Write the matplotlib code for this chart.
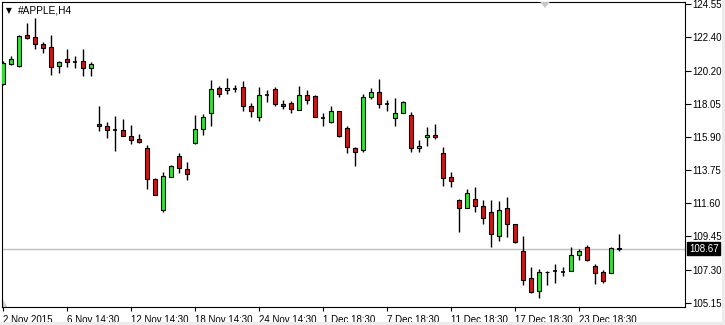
import matplotlib
matplotlib.use("Agg")
import matplotlib.pyplot as plt
from matplotlib.patches import Rectangle, Polygon
import numpy as np

# ---- data ----
opens = [119.37, 120.66, 120.53, 122.54, 122.41, 121.96, 121.76, 120.53, 120.99, 120.79,
         120.86, 120.40, 116.77, 116.64, 116.39, 116.39, 116.00, 115.80, 115.22, 113.21,
         111.14, 113.34, 114.70, 113.86, 115.54, 116.45, 117.49, 119.11, 118.98, 119.04,
         119.17, 117.94, 117.23, 118.65, 119.04, 118.07, 118.14, 117.68, 118.65, 118.59,
         117.16, 116.90, 117.62, 116.51, 115.22, 115.09, 118.52, 118.85, 118.07, 117.16,
         117.49, 117.36, 115.22, 115.93, 116.06, 114.89, 113.34, 111.85, 111.27, 111.91,
         111.46, 111.01, 109.45, 111.27, 110.23, 108.54, 106.73, 105.89, 107.12, 107.18,
         107.12, 107.18, 108.22, 108.74, 107.51, 107.12, 107.05, 108.72]
highs = [120.86, 121.18, 122.56, 123.32, 123.64, 122.09, 122.54, 120.86, 121.63, 121.18,
         121.63, 120.79, 117.94, 116.90, 117.29, 117.10, 116.71, 116.13, 115.41, 113.27,
         113.66, 114.12, 114.89, 114.31, 117.36, 117.42, 119.63, 119.24, 119.75, 119.30,
         119.56, 118.14, 119.17, 118.98, 119.17, 118.33, 118.26, 119.24, 118.98, 118.65,
         117.49, 117.94, 117.62, 116.64, 115.28, 118.72, 119.11, 119.69, 118.33, 118.46,
         118.26, 117.55, 115.74, 116.58, 116.77, 115.28, 113.66, 111.91, 112.56, 112.69,
         111.85, 111.85, 111.78, 112.04, 110.23, 109.45, 107.44, 107.31, 107.18, 107.64,
         107.44, 108.80, 108.61, 108.87, 107.64, 107.25, 108.74, 109.58]
lows = [119.30, 120.60, 120.47, 122.28, 121.63, 121.37, 119.95, 120.08, 120.47, 120.40,
        119.88, 119.88, 116.32, 115.87, 115.02, 115.95, 115.48, 115.54, 112.56, 112.17,
        111.01, 113.34, 113.60, 113.14, 115.48, 116.06, 116.64, 118.52, 118.72, 118.85,
        117.62, 117.23, 116.97, 118.20, 117.94, 117.75, 117.49, 117.68, 118.07, 117.23,
        116.64, 116.84, 115.93, 114.89, 114.05, 114.96, 118.39, 117.81, 117.62, 116.64,
        117.49, 114.96, 114.96, 115.35, 115.80, 112.76, 112.69, 109.71, 111.27, 111.01,
        110.23, 108.74, 109.13, 109.39, 109.00, 106.28, 105.76, 105.43, 106.28, 106.41,
        106.86, 107.18, 107.90, 107.83, 106.34, 106.41, 107.05, 108.54]
closes = [120.73, 120.99, 122.50, 122.35, 121.96, 121.70, 120.47, 120.79, 120.79, 120.79,
          120.40, 120.66, 116.64, 116.39, 116.39, 116.00, 115.74, 115.61, 113.21, 112.17,
          113.40, 114.05, 113.92, 113.53, 116.45, 117.23, 119.04, 118.72, 119.11, 119.04,
          117.94, 117.62, 118.65, 118.65, 118.07, 117.94, 117.75, 118.65, 118.33, 117.23,
          117.16, 117.62, 116.00, 115.28, 114.96, 118.52, 118.85, 118.07, 118.07, 117.49,
          118.20, 115.22, 115.35, 116.06, 115.93, 113.27, 113.08, 111.27, 112.30, 111.46,
          110.68, 109.58, 111.20, 110.23, 109.06, 106.60, 105.82, 107.12, 107.15, 107.18,
          107.12, 108.22, 108.54, 107.90, 107.05, 106.54, 108.70, 108.67]

time_tick_idx = [0, 8, 16, 24, 32, 40, 48, 56, 64, 72]
time_labels = ["2 Nov 2015", "6 Nov 14:30", "12 Nov 14:30", "18 Nov 14:30", "24 Nov 14:30",
               "1 Dec 18:30", "7 Dec 18:30", "11 Dec 18:30", "17 Dec 18:30", "23 Dec 18:30"]
price_ticks = [124.55, 122.40, 120.20, 118.05, 115.90, 113.75, 111.60, 109.45, 107.30, 105.15]
last_price = 108.67
title = "#APPLE,H4"

# ---- figure ----
W, H = 725, 325
fig = plt.figure(figsize=(W / 100, H / 100), dpi=100, facecolor="white")
L, R, T, B = 2, 685, 2, 307
ax = fig.add_axes([L / W, 1 - B / H, (R - L) / W, (B - T) / H])
ax.set_facecolor("white")

font = "Liberation Sans"
bull = "#2EE62E"
bear = "#D01515"

x = np.arange(len(opens))
o = np.array(opens); c = np.array(closes); hi = np.array(highs); lo = np.array(lows)

ax.axhline(last_price, color="#C0C0C0", lw=1.0, zorder=1)
ax.vlines(x, lo, hi, color="black", lw=1.0, zorder=2)

bw = 0.62
for i in range(len(x)):
    if abs(c[i] - o[i]) < 0.02:
        ax.hlines(c[i], x[i] - bw / 2, x[i] + bw / 2, color="black", lw=1.2, zorder=3)
    else:
        col = bull if c[i] > o[i] else bear
        ax.bar(x[i], abs(c[i] - o[i]), bottom=min(o[i], c[i]), width=bw,
               color=col, edgecolor="black", linewidth=0.8, zorder=3)

k = 19.4 / 298.7
ax.set_ylim(105.15 - 4.3 * k, 124.55 + 2 * k)
ax.set_xlim(-0.125, (R - 3) / 8)

ax.yaxis.tick_right()
ax.set_yticks(price_ticks)
ax.set_yticklabels([f"{v:.2f}" for v in price_ticks], fontfamily=font, fontsize=7)
ax.tick_params(axis="y", direction="out", length=4, width=0.8, pad=1.5, colors="black")
ax.set_xticks(time_tick_idx)
ax.set_xticklabels(time_labels, fontfamily=font, fontsize=7, ha="left")
ax.tick_params(axis="x", direction="out", length=3, width=0.8, pad=2.5, colors="black")

for s in ax.spines.values():
    s.set_color("black")
    s.set_linewidth(0.8)

# current price box
ax.text(1.006, last_price, f"{last_price:.2f}", transform=ax.get_yaxis_transform(),
        ha="left", va="center", fontsize=7, fontfamily=font, color="white",
        bbox=dict(boxstyle="square,pad=0.18", facecolor="black", edgecolor="black"),
        zorder=10, clip_on=False)

# title
ax.text(0.006, 0.972, "\u25BC", transform=ax.transAxes, fontsize=5.5,
        fontfamily="DejaVu Sans", ha="left", va="center", color="black")
ax.text(0.024, 0.972, title, transform=ax.transAxes, fontsize=7.3,
        fontfamily=font, ha="left", va="center", color="black")

# chart-shift marker at top
ax.add_patch(Polygon([(67.75 - 0.6, 1.0), (67.75 + 0.6, 1.0), (67.75, 1.0 - 6 / 305)],
                     closed=True, transform=ax.get_xaxis_transform(),
                     facecolor="#C8C8C8", edgecolor="none", clip_on=False, zorder=5))
# small scale marker bottom-left
ax.add_patch(Polygon([(0.0, 0.0), (0.0, 0.03), (0.008, 0.0)], closed=True,
                     transform=ax.transAxes, facecolor="#D0D0D0", edgecolor="none"))

# window border strips
fig.patches.append(Rectangle((0, 0), 1, 3 / H, transform=fig.transFigure,
                             facecolor="#ECECEC", edgecolor="none"))
fig.patches.append(Rectangle((1 - 3 / W, 0), 3 / W, 1, transform=fig.transFigure,
                             facecolor="#ECECEC", edgecolor="none"))

fig.savefig("out.png", dpi=100, facecolor="white")
